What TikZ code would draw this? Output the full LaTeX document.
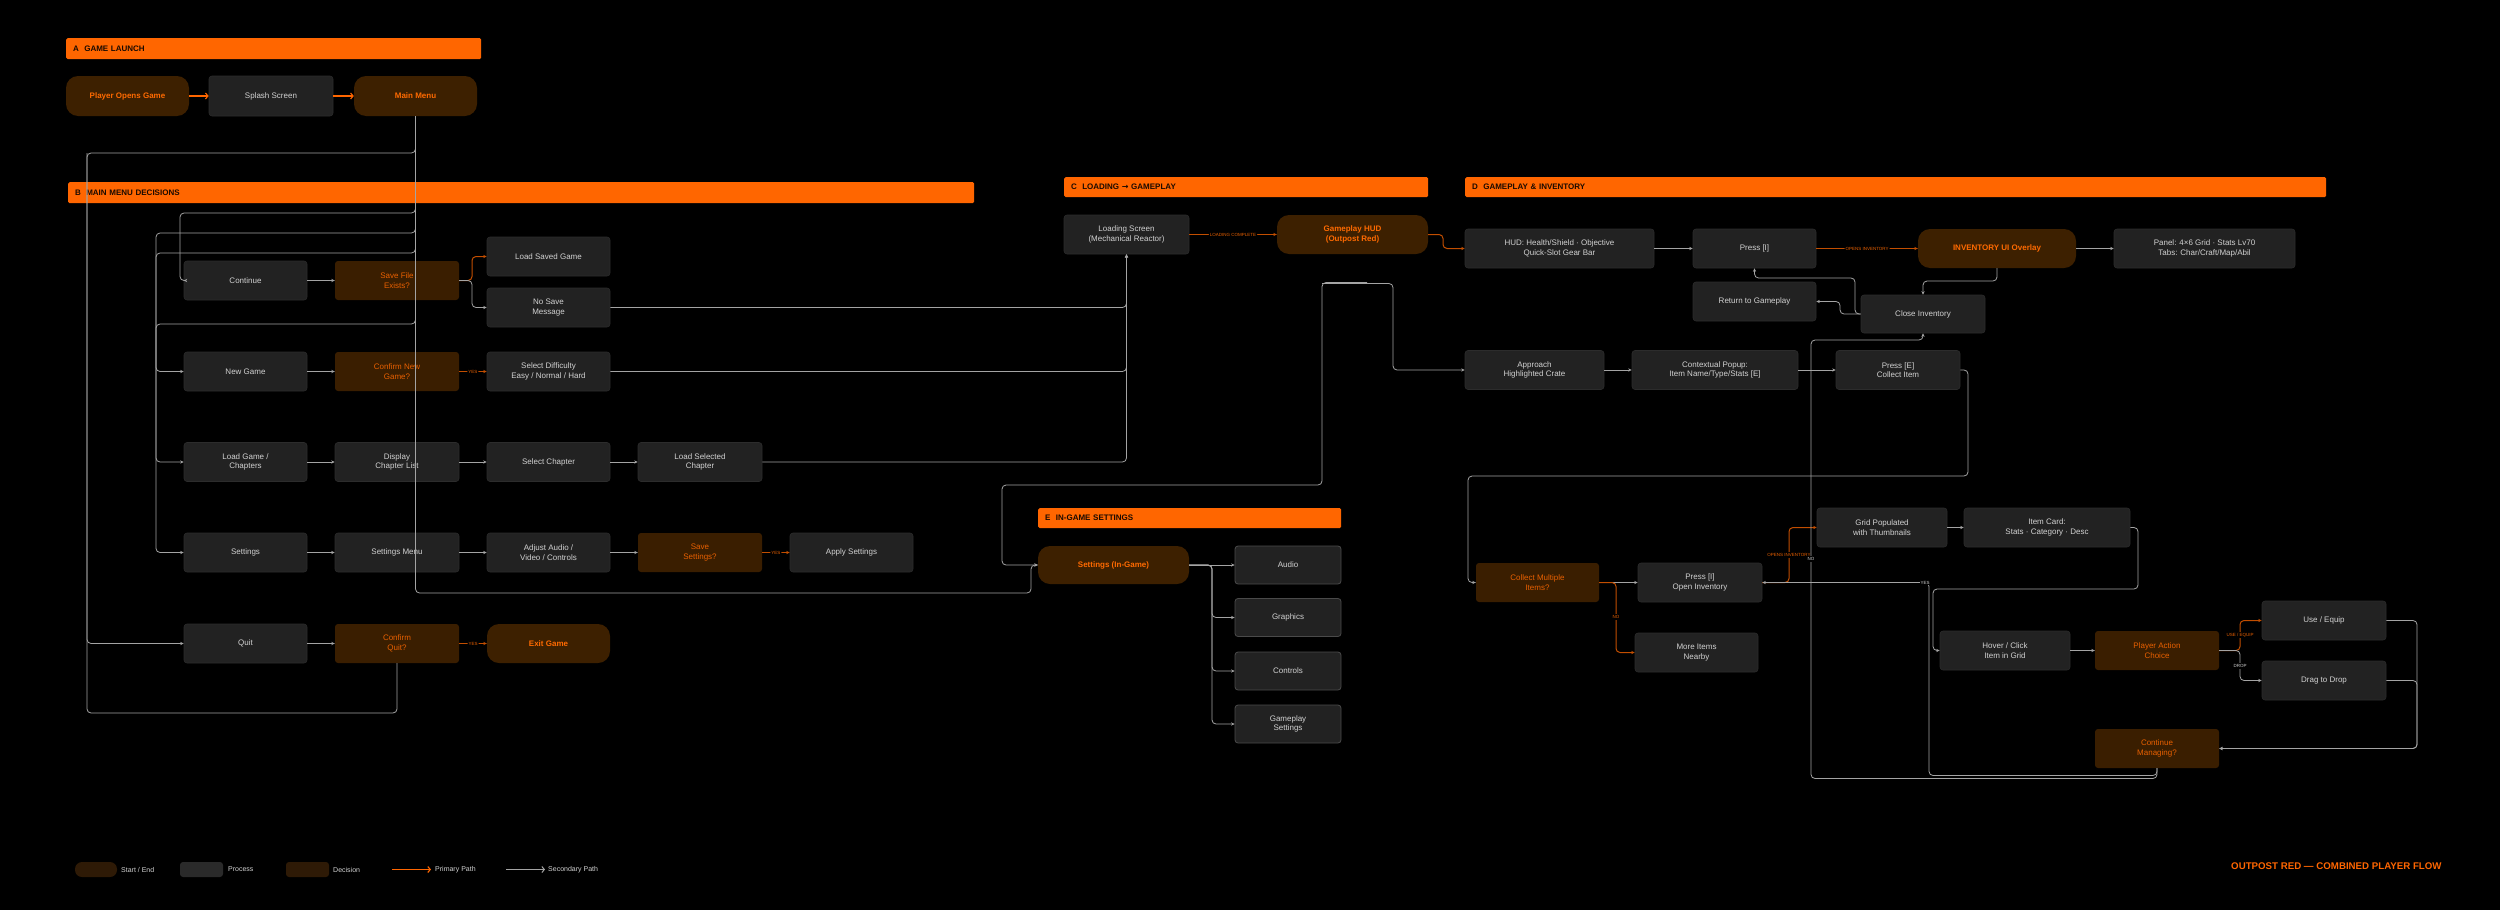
\documentclass[tikz,border=0pt]{standalone}
\usepackage{fontspec}
\setmainfont{Liberation Sans}
\newfontfamily\djv{DejaVu Sans}
\usetikzlibrary{arrows.meta}
\definecolor{orng}{HTML}{FF6600}
\definecolor{termfill}{HTML}{3D2000}
\definecolor{decfill}{HTML}{3A1E00}
\definecolor{procfill}{HTML}{222222}
\definecolor{procline}{HTML}{2C2C2C}
\definecolor{procline2}{HTML}{4A4A4A}
\definecolor{proctext}{HTML}{D2D2D2}
\definecolor{dectext}{HTML}{E86000}
\definecolor{termtext}{HTML}{FF6A00}
\definecolor{edgegrey}{HTML}{A4A4A4}
\definecolor{edgeor}{HTML}{C24E00}
\definecolor{hdrtext}{HTML}{1A0A00}
\definecolor{legterm}{HTML}{2E1A06}
\definecolor{legproc}{HTML}{2A2A2A}
\tikzset{
  wd/.style={minimum width=#1pt},
  base/.style={rounded corners=3pt, align=center, inner sep=1pt, minimum height=39pt, font=\fontsize{8}{9.5}\selectfont},
  proc/.style={base, fill=procfill, draw=procline, line width=0.6pt, text=proctext},
  procl/.style={proc, draw=procline2, line width=0.8pt, minimum height=38pt},
  dec/.style={base, fill=decfill, text=dectext},
  term/.style={base, rounded corners=12pt, fill=termfill, text=termtext, font=\bfseries\fontsize{8}{9.5}\selectfont},
  hdr/.style={fill=orng, rounded corners=1.5pt, anchor=north west, inner xsep=7pt, inner ysep=0pt, align=left, text=hdrtext, font=\bfseries\fontsize{8}{9}\selectfont},
  sec/.style={draw=edgegrey, line width=0.8pt, rounded corners=4pt, -{Stealth[length=3.5pt,width=3.2pt]}},
  pri/.style={draw=edgeor, line width=1pt, rounded corners=4pt, -{Stealth[length=3.5pt,width=3.2pt]}},
  priA/.style={draw=orng, line width=1.1pt, -{Straight Barb[length=2.5pt,width=6pt]}},
  lbl/.style={fill=black, inner sep=1pt, text=dectext, font=\fontsize{4.5}{5}\selectfont},
  lblg/.style={lbl, text=proctext},
  legtxt/.style={anchor=west, text=proctext, inner sep=0pt, font=\fontsize{7}{8}\selectfont},
}
\begin{document}
\begin{tikzpicture}[x=1pt,y=-1pt]
\fill[black] (0,0) rectangle (2500,910);
\useasboundingbox (0,0) rectangle (2500,910);

% ---------- headers
\node[hdr, minimum height=21pt, text width=401pt] (hA) at (66,38) {A\ \ GAME LAUNCH};
\node[hdr, minimum height=21pt, text width=892pt] (hB) at (68,182) {B\ \ MAIN MENU DECISIONS};
\node[hdr, minimum height=20pt, text width=350pt] (hC) at (1064,177) {C\ \ LOADING {\djv →} GAMEPLAY};
\node[hdr, minimum height=20pt, text width=847pt] (hD) at (1465,177) {D\ \ GAMEPLAY \& INVENTORY};
\node[hdr, minimum height=20pt, text width=289pt] (hE) at (1038,508) {E\ \ IN-GAME SETTINGS};

% ---------- A
\node[term, wd=123, minimum height=40pt] (start) at (127.5,96) {Player Opens Game};
\node[proc, wd=124, minimum height=40pt] (splash) at (271,96) {Splash Screen};
\node[term, wd=123, minimum height=40pt] (mainmenu) at (415.5,96) {Main Menu};

% ---------- B
\node[proc, wd=123] (cont) at (245.5,280.5) {Continue};
\node[dec, wd=124] (savef) at (397,280.5) {Save File\\Exists?};
\node[proc, wd=123] (loadsaved) at (548.5,256.5) {Load Saved Game};
\node[proc, wd=123] (nosave) at (548.5,307.5) {No Save\\Message};
\node[proc, wd=123] (newg) at (245.5,371.5) {New Game};
\node[dec, wd=124] (confnew) at (397,371.5) {Confirm New\\Game?};
\node[proc, wd=123] (seldiff) at (548.5,371.5) {Select Difficulty\\Easy / Normal / Hard};
\node[proc, wd=123] (loadg) at (245.5,462) {Load Game /\\Chapters};
\node[proc, wd=124] (disp) at (397,462) {Display\\Chapter List};
\node[proc, wd=123] (selch) at (548.5,462) {Select Chapter};
\node[proc, wd=124] (loadsel) at (700,462) {Load Selected\\Chapter};
\node[proc, wd=123] (sett) at (245.5,552.5) {Settings};
\node[proc, wd=124] (setmenu) at (397,552.5) {Settings Menu};
\node[proc, wd=123] (adjust) at (548.5,552.5) {Adjust Audio /\\Video / Controls};
\node[dec, wd=124] (savesett) at (700,552.5) {Save\\Settings?};
\node[proc, wd=123] (apply) at (851.5,552.5) {Apply Settings};
\node[proc, wd=123] (quit) at (245.5,643.5) {Quit};
\node[dec, wd=124] (cquit) at (397,643.5) {Confirm\\Quit?};
\node[term, wd=123] (exitg) at (548.5,643.5) {Exit Game};

% ---------- C
\node[proc, wd=125] (loading) at (1126.5,234.5) {Loading Screen\\(Mechanical Reactor)};
\node[term, wd=151] (hud) at (1352.5,234.5) {Gameplay HUD\\(Outpost Red)};

% ---------- E
\node[term, wd=151, minimum height=38pt] (setig) at (1113.5,565) {Settings (In-Game)};
\node[procl, wd=106] (audio) at (1288,565) {Audio};
\node[procl, wd=106] (graphics) at (1288,617.5) {Graphics};
\node[procl, wd=106] (controls) at (1288,671) {Controls};
\node[procl, wd=106] (gpset) at (1288,724) {Gameplay\\Settings};

% ---------- D
\node[proc, wd=189] (hudbar) at (1559.5,248.5) {HUD: Health/Shield · Objective\\Quick-Slot Gear Bar};
\node[proc, wd=123] (pressi) at (1754.5,248.5) {Press [I]};
\node[term, wd=158] (inv) at (1997,248.5) {INVENTORY UI Overlay};
\node[proc, wd=181] (panel) at (2204.5,248.5) {Panel: 4×6 Grid · Stats Lv70\\Tabs: Char/Craft/Map/Abil};
\node[proc, wd=123] (ret) at (1754.5,301.5) {Return to Gameplay};
\node[proc, wd=124, minimum height=38pt] (close) at (1923,314) {Close Inventory};
\node[proc, wd=139] (approach) at (1534.5,370) {Approach\\Highlighted Crate};
\node[proc, wd=166] (popup) at (1715,370) {Contextual Popup:\\Item Name/Type/Stats [E]};
\node[proc, wd=124] (presse) at (1898,370) {Press [E]\\Collect Item};
\node[dec, wd=123] (collect) at (1537.5,582.5) {Collect Multiple\\Items?};
\node[proc, wd=124] (openi) at (1700,582.5) {Press [I]\\Open Inventory};
\node[proc, wd=123] (more) at (1696.5,652.5) {More Items\\Nearby};
\node[proc, wd=130] (grid) at (1882,527.5) {Grid Populated\\with Thumbnails};
\node[proc, wd=166] (card) at (2047,527.5) {Item Card:\\Stats · Category · Desc};
\node[proc, wd=130] (hover) at (2005,650.5) {Hover / Click\\Item in Grid};
\node[dec, wd=124] (choice) at (2157,650.5) {Player Action\\Choice};
\node[proc, wd=124] (use) at (2324,620.5) {Use / Equip};
\node[proc, wd=124] (drop) at (2324,680.5) {Drag to Drop};
\node[dec, wd=124] (contm) at (2157,748.5) {Continue\\Managing?};

% ---------- edges A
\draw[priA] (start) -- (splash);
\draw[priA] (splash) -- (mainmenu);

% ---------- edges B
\draw[sec] (mainmenu.south) -- (415.5,153) -- (87,153) -- (87,643.5) -- (quit.west);
\draw[sec] (mainmenu.south) -- (415.5,213) -- (180,213) -- (180,280.5) -- (cont.west);
\draw[sec] (mainmenu.south) -- (415.5,233) -- (156,233) -- (156,462) -- (loadg.west);
\draw[sec] (mainmenu.south) -- (415.5,253) -- (156,253) -- (156,552.5) -- (sett.west);
\draw[sec] (mainmenu.south) -- (415.5,324) -- (156,324) -- (156,371.5) -- (newg.west);
\draw[sec] (mainmenu.south) -- (415.5,593) -- (1031,593) -- (1031,565) -- (setig.west);
\draw[sec,-] (cquit.south) -- (397,713) -- (87,713) -- (87,153);

\draw[sec] (cont) -- (savef);
\draw[pri] (savef.east) -- (472,280.5) -- (472,256.5) -- (loadsaved.west);
\draw[sec] (savef.east) -- (472,280.5) -- (472,307.5) -- (nosave.west);
\draw[sec] (newg) -- (confnew);
\draw[pri] (confnew) -- node[lbl]{YES} (seldiff);
\draw[sec] (loadg) -- (disp);
\draw[sec] (disp) -- (selch);
\draw[sec] (selch) -- (loadsel);
\draw[sec] (sett) -- (setmenu);
\draw[sec] (setmenu) -- (adjust);
\draw[sec] (adjust) -- (savesett);
\draw[pri] (savesett) -- node[lbl]{YES} (apply);
\draw[sec] (quit) -- (cquit);
\draw[pri] (cquit) -- node[lbl]{YES} (exitg);

% to loading
\draw[sec] (nosave.east) -- (1126.5,307.5) -- (loading.south);
\draw[sec] (seldiff.east) -- (1126.5,371.5) -- (loading.south);
\draw[sec] (loadsel.east) -- (1126.5,462) -- (loading.south);

% ---------- edges C
\draw[pri] (loading) -- node[lbl]{LOADING COMPLETE} (hud);
\draw[pri] (hud.east) -- (1443,234.5) -- (1443,248.5) -- (hudbar.west);
\coordinate (tapA) at (1367,282.5);
\coordinate (tapB) at (1322,283.5);
\draw[sec] (tapA) -- (1322,282.5) -- (1322,485) -- (1002,485) -- (1002,565) -- (setig.west);
\draw[sec] (tapB) -- (1393,283.5) -- (1393,370) -- (approach.west);

% ---------- edges E
\draw[sec] (setig.east) -- (audio.west);
\draw[sec] (setig.east) -- (1212,565) -- (1212,617.5) -- (graphics.west);
\draw[sec] (setig.east) -- (1212,565) -- (1212,671) -- (controls.west);
\draw[sec] (setig.east) -- (1212,565) -- (1212,724) -- (gpset.west);

% ---------- edges D
\draw[sec] (hudbar) -- (pressi);
\draw[pri] (pressi) -- node[lbl]{OPENS INVENTORY} (inv);
\draw[sec] (inv) -- (panel);
\draw[sec] (inv.south) -- (1997,281) -- (1923,281) -- (close.north);
\draw[sec] (close.west) -- (1855,314) -- (1855,278) -- (1754.5,278) -- (pressi.south);
\draw[sec] (close.west) -- (1840,314) -- (1840,301.5) -- (ret.east);
\draw[sec] (approach) -- (popup);
\draw[sec] (popup) -- (presse);
\draw[sec] (presse.east) -- (1968,370) -- (1968,476) -- (1468,476) -- (1468,582.5) -- (collect.west);
\draw[sec] (collect) -- (openi);
\draw[pri] (collect.east) -- (1616,582.5) -- (1616,652.5) -- (more.west);
\node[lbl] (noA) at (1616,617) {NO};
\draw[pri] (openi.east) -- (1789,582.5) -- (1789,527.5) -- (grid.west);
\node[lbl] (oiA) at (1789,555) {OPENS INVENTORY};
\draw[sec] (grid) -- (card);
\draw[sec] (card.east) -- (2138,527.5) -- (2138,589) -- (1933,589) -- (1933,650.5) -- (hover.west);
\draw[sec] (hover) -- (choice);
\draw[pri] (choice.east) -- (2240,650.5) -- (2240,620.5) -- (use.west);
\node[lbl] (ueA) at (2240,635) {USE / EQUIP};
\draw[sec] (choice.east) -- (2240,650.5) -- (2240,680.5) -- (drop.west);
\node[lblg] (drA) at (2240,666) {DROP};
\draw[sec] (use.east) -- (2417,620.5) -- (2417,748.5) -- (contm.east);
\draw[sec] (drop.east) -- (2417,680.5) -- (2417,748.5) -- (contm.east);
\draw[sec] (contm.south) -- (2157,775.5) -- (1929,775.5) -- (1929,582.5) -- (openi.east);
\node[lblg] (yesA) at (1925,582.5) {YES};
\draw[sec] (contm.south) -- (2157,778.5) -- (1811,778.5) -- (1811,340) -- (1923,340) -- (close.south);
\node[lblg] (noB) at (1811,559) {NO};

% ---------- legend
\node[base, rounded corners=7pt, fill=legterm, minimum width=42pt, minimum height=15pt] (lg1) at (96,869.5) {};
\node[legtxt] (lt1) at (121,869.5) {Start / End};
\node[base, fill=legproc, minimum width=43pt, minimum height=15pt] (lg2) at (201.5,869.5) {};
\node[legtxt] (lt2) at (228,869.5) {Process};
\node[base, fill=legterm, minimum width=43pt, minimum height=15pt] (lg3) at (307.5,869.5) {};
\node[legtxt] (lt3) at (333,869.5) {Decision};
\coordinate (lp1) at (392,869.5);
\coordinate (lp2) at (431,869.5);
\draw[priA] (lp1) -- (lp2);
\node[legtxt] (lt4) at (435,869.5) {Primary Path};
\coordinate (ls1) at (506,869.5);
\coordinate (ls2) at (545,869.5);
\draw[draw=edgegrey, line width=1pt, -{Straight Barb[length=2.5pt,width=6pt]}] (ls1) -- (ls2);
\node[legtxt] (lt5) at (548,869.5) {Secondary Path};

\node[anchor=west, inner sep=0pt, text=orng, font=\bfseries\fontsize{9.7}{10}\selectfont] (title) at (2231,866) {OUTPOST RED — COMBINED PLAYER FLOW};
\end{tikzpicture}
\end{document}
